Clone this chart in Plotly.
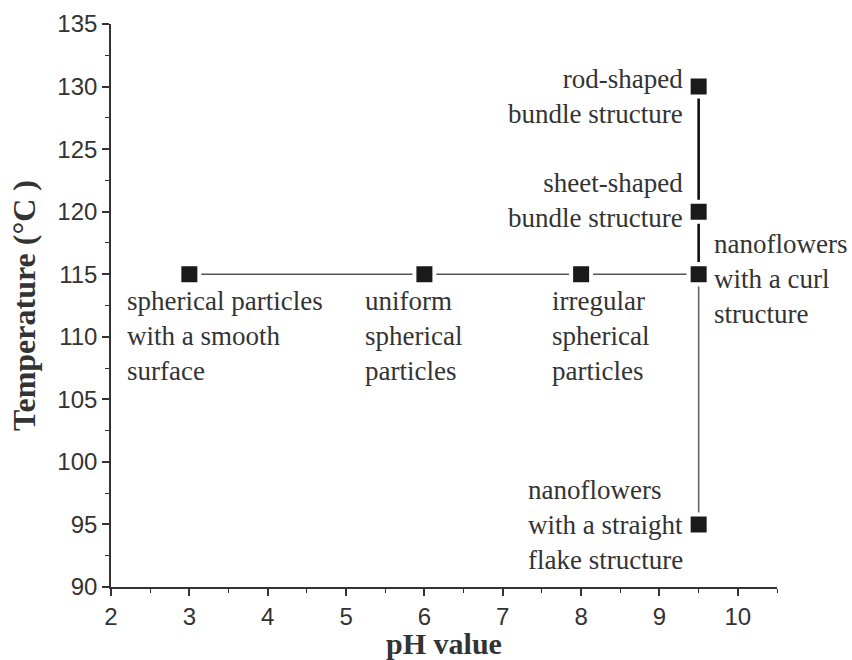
import plotly.graph_objects as go

# pH series at a fixed temperature of 115 °C
ph_values = [3, 6, 8, 9.5]
ph_fixed_temp = 115
ph_labels = [
    "spherical particles<br>with a smooth<br>surface",
    "uniform<br>spherical<br>particles",
    "irregular<br>spherical<br>particles",
    "nanoflowers<br>with a curl<br>structure",
]

# temperature series at a fixed pH of 9.5
temp_fixed_ph = 9.5
temp_values = [95, 115, 120, 130]
temp_labels = [
    "nanoflowers<br>with a straight<br>flake structure",
    None,
    "sheet-shaped<br>bundle structure",
    "rod-shaped<br>bundle structure",
]

x_ticks = [2, 3, 4, 5, 6, 7, 8, 9, 10]
y_ticks = [90, 95, 100, 105, 110, 115, 120, 125, 130, 135]

SERIF = "Liberation Serif, Times New Roman, serif"
SANS = "Liberation Sans, Arial, sans-serif"
TEXT = "#333333"

fig = go.Figure()

# connecting lines
fig.add_trace(go.Scatter(
    x=ph_values, y=[ph_fixed_temp] * len(ph_values), mode="lines",
    line=dict(color="#555555", width=1.6), hoverinfo="skip"))
fig.add_trace(go.Scatter(
    x=[temp_fixed_ph] * 2, y=temp_values[:2], mode="lines",
    line=dict(color="#666666", width=1.6), hoverinfo="skip"))
fig.add_trace(go.Scatter(
    x=[temp_fixed_ph] * 3, y=temp_values[1:], mode="lines",
    line=dict(color="#111111", width=2.6), hoverinfo="skip"))

# square markers with a white rim that leaves a gap in the lines
marker_style = dict(symbol="square", size=20, color="#1a1a1a",
                    line=dict(color="white", width=4))
fig.add_trace(go.Scatter(
    x=ph_values, y=[ph_fixed_temp] * len(ph_values), mode="markers",
    marker=marker_style))
fig.add_trace(go.Scatter(
    x=[temp_fixed_ph] * len(temp_values), y=temp_values, mode="markers",
    marker=marker_style))

ann_font = dict(family=SERIF, size=27, color=TEXT)

# labels under the 115 °C points
ph_offsets = [(-64, "left", "top", -10), (-61, "left", "top", -10),
              (-31, "left", "top", -10), (13, "left", "middle", -5)]
for xv, txt, (dx, xa, ya, dy) in zip(ph_values, ph_labels, ph_offsets):
    fig.add_annotation(x=xv, y=ph_fixed_temp, text=txt, showarrow=False,
                       xanchor=xa, yanchor=ya, xshift=dx, yshift=dy,
                       align="left", font=ann_font)

# labels beside the pH 9.5 points
temp_offsets = [(-14, "left", -1), None, (-14, "right", 11), (-14, "right", -10)]
for yv, txt, off in zip(temp_values, temp_labels, temp_offsets):
    if txt is None:
        continue
    dx, al, dy = off
    fig.add_annotation(x=temp_fixed_ph, y=yv, text=txt, showarrow=False,
                       xanchor="right", yanchor="middle", xshift=dx, yshift=dy,
                       align=al, font=ann_font)

axis_common = dict(
    showline=True, linecolor="#333333", linewidth=1.6,
    ticks="outside", ticklen=7, tickwidth=1.6, tickcolor="#333333",
    showgrid=False, zeroline=False, mirror=False, automargin=False,
    tickfont=dict(family=SANS, size=24, color=TEXT),
)

fig.update_xaxes(
    range=[2, 10.5], tickvals=x_ticks, ticktext=[str(v) for v in x_ticks],
    minor=dict(dtick=0.5, ticks="outside", ticklen=4, tickwidth=1.4,
               tickcolor="#333333"),
    title=dict(text="<b>pH value</b>", standoff=9,
               font=dict(family=SERIF, size=30, color=TEXT)),
    **axis_common)
fig.update_yaxes(
    range=[90, 135], tickvals=y_ticks, ticktext=[str(v) for v in y_ticks],
    minor=dict(dtick=2.5, ticks="outside", ticklen=4, tickwidth=1.4,
               tickcolor="#333333"),
    title=dict(text="<b>Temperature (°C )</b>", standoff=12,
               font=dict(family=SERIF, size=32, color=TEXT)),
    **axis_common)

fig.update_layout(
    width=852, height=660, showlegend=False,
    margin=dict(l=111, r=75, t=24, b=73),
    plot_bgcolor="white", paper_bgcolor="white",
)

fig.write_html("out.html")
